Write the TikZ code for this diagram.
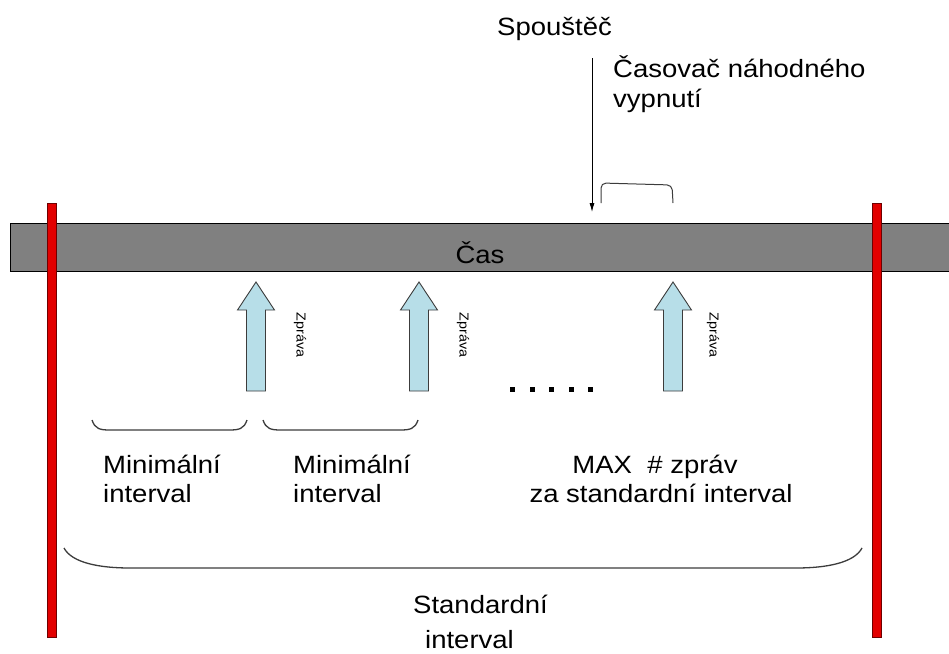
\documentclass[tikz,border=0pt]{standalone}
\usepackage{fontspec}
\setmainfont{Liberation Sans}[FakeStretch=1.1]
\usetikzlibrary{arrows.meta}
\definecolor{barfill}{RGB}{128,128,128}
\definecolor{msgfill}{RGB}{183,222,232}
\definecolor{limitred}{RGB}{226,0,0}
\definecolor{limitedge}{RGB}{110,0,0}
\definecolor{inkgray}{RGB}{60,60,60}

\tikzset{
  lbl/.style={inner sep=0pt, font=\fontsize{25}{30}\selectfont, anchor=base west},
  tinylbl/.style={inner sep=0pt, font=\fontsize{13}{15}\selectfont, rotate=-90},
  limit/.style={draw=limitedge, fill=limitred, line width=0.6pt, inner sep=0pt,
    minimum width=9pt, minimum height=434pt},
  brace/.style={draw=inkgray, line width=1.3pt},
  msg/.pic={\draw[draw=inkgray, fill=msgfill, line width=0.9pt]
    (-9.5,109) -- (-9.5,28) -- (-18.5,28) -- (0,0) -- (18.5,28) -- (9.5,28) -- (9.5,109) -- cycle;}
}

\begin{document}
\begin{tikzpicture}[x=1pt,y=-1pt]
\useasboundingbox[fill=white] (0,0) rectangle (949,653);

% time line
\node (bar) [draw=black, fill=barfill, line width=0.8pt, inner sep=0pt,
  minimum width=945pt, minimum height=48pt, anchor=north west] at (10,223) {};
\node (cas) [lbl, anchor=base] at (480,263) {Čas};

% limits of the standard interval
\node (lim1) [limit] at (51.5,420) {};
\node (lim2) [limit] at (877,420) {};

% messages
\pic at (256,282) {msg};
\pic at (419,282) {msg};
\pic at (673,282) {msg};
\node (z1) [tinylbl] at (300,335) {Zpráva};
\node (z2) [tinylbl] at (463,335) {Zpráva};
\node (z3) [tinylbl] at (713,335) {Zpráva};

% continuation dots
\foreach \dx in {512,532,551,571,590}
  \fill (\dx-2.5,386.5) rectangle +(5,5);

% trigger
\node (trigtxt) [lbl] at (497,35) {Spouštěč};
\coordinate (trig) at (592,58);
\draw[-{Latex[length=9pt,width=5pt]}, line width=0.8pt, shorten >=11pt] (trig) -- (trig |- bar.north);

% random shutdown timer
\node (timer1) [lbl] at (613,77) {Časovač náhodného};
\node (timer2) [lbl] at (613,107) {vypnutí};
\draw[inkgray, line width=1pt, rounded corners=5pt] (601,203) -- (601,183) -- (672,185) -- (673,203);

% minimal intervals
\draw[brace] (92,420) .. controls (95,429) and (100,430) .. (110,430) -- (229,430)
  .. controls (239,430) and (244,429) .. (247,420);
\draw[brace] (263,420) .. controls (266,429) and (271,430) .. (281,430) -- (400,430)
  .. controls (410,430) and (415,429) .. (418,420);
\node (min1a) [lbl] at (103,473) {Minimální};
\node (min1b) [lbl] at (103,502) {interval};
\node (min2a) [lbl] at (293,473) {Minimální};
\node (min2b) [lbl] at (293,502) {interval};

% max number of messages
\node (max1) [lbl, anchor=base] at (655,473) {MAX\ \ \# zpráv};
\node (max2) [lbl, anchor=base] at (661,502) {za standardní interval};

% standard interval
\draw[brace] (64,548) .. controls (72,563) and (100,568) .. (130,568) -- (796,568)
  .. controls (826,568) and (854,563) .. (862,548);
\node (std1) [lbl] at (413,613) {Standardní};
\node (std2) [lbl] at (425,648) {interval};
\end{tikzpicture}
\end{document}
